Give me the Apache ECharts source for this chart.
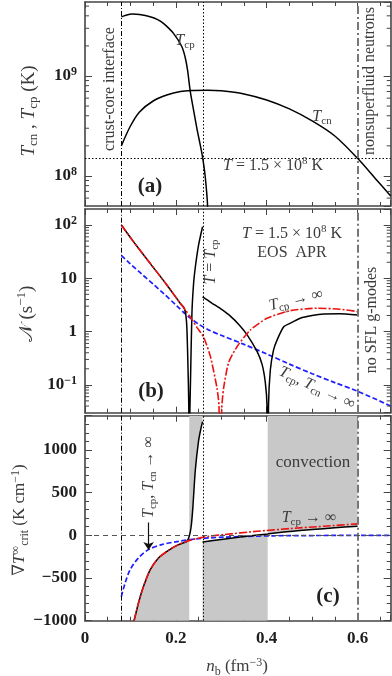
<!DOCTYPE html>
<html><head><meta charset="utf-8">
<script src="https://cdn.jsdelivr.net/npm/echarts@6/dist/echarts.min.js"></script>
<style>html,body{margin:0;padding:0;background:#fff}#c{width:392px;height:676px}</style>
</head><body><div id="c"></div>
<script>
// ---------------- DATA ----------------
const X_MIN = 0, X_MAX = 0.673;
const xTickLabels = [0, 0.2, 0.4, 0.6];
const crustCore = 0.08, tEqTcp = 0.2588, nonSF = 0.6;
const T_line = 1.5e8;

// panel (a): critical temperatures (K)
const nbTcp = [0.08, 0.09, 0.105, 0.12, 0.1434, 0.16, 0.1727, 0.1948, 0.2133, 0.2206, 0.2257, 0.2316, 0.239, 0.2463, 0.2537, 0.2588, 0.2647, 0.2699, 0.2715];
const Tcp   = [3.9e9, 4.06e9, 4.17e9, 4.12e9, 3.92e9, 3.67e9, 3.36e9, 2.67e9, 1.96e9, 1.53e9, 1.15e9, 7.1e8, 4.56e8, 2.99e8, 2.04e8, 1.54e8, 9.8e7, 4.9e7, 1e7];
const nbTcn = [0.08, 0.10, 0.12, 0.15, 0.18, 0.21, 0.24, 0.27, 0.30, 0.35, 0.40, 0.45, 0.50, 0.55, 0.60, 0.64, 0.673];
const Tcn   = [2.0e8, 3.16e8, 4.37e8, 5.62e8, 6.46e8, 7.0e8, 7.16e8, 7.21e8, 7.11e8, 6.61e8, 5.75e8, 4.68e8, 3.55e8, 2.51e8, 1.5e8, 9.33e7, 6.3e7];

// panel (b): Brunt-Vaisala frequency (s^-1)
const nbB1 = [0.08, 0.1066, 0.1434, 0.1802, 0.2096, 0.2169, 0.2215, 0.2243, 0.2265, 0.2285, 0.2295, 0.2305, 0.2325, 0.2354, 0.239, 0.2427, 0.25, 0.2588];
const NB1  = [100, 48.8, 19.1, 7.5, 3.4, 2.9, 2.2, 1.15, 0.26, 0.04, 0.0001, 0.02, 0.15, 2.2, 7.9, 15.8, 42, 93];
const nbB2 = [0.2588, 0.28, 0.30, 0.32, 0.34, 0.357, 0.379, 0.39, 0.397, 0.4007, 0.4022, 0.404, 0.408, 0.415, 0.423, 0.4375, 0.45, 0.474, 0.50, 0.526, 0.56, 0.6];
const NB2  = [4.5, 3.4, 2.63, 1.95, 1.32, 0.87, 0.42, 0.24, 0.11, 0.04, 0.0001, 0.04, 0.19, 0.45, 0.70, 1.23, 1.41, 1.78, 2.0, 2.14, 2.16, 2.05];
const nbRedB = [0.08, 0.1066, 0.1434, 0.1802, 0.2096, 0.2206, 0.2316, 0.2464, 0.261, 0.2757, 0.2904, 0.295, 0.2978, 0.301, 0.305, 0.316, 0.3346, 0.364, 0.4008, 0.452, 0.511, 0.5625, 0.6];
const NRed   = [100, 48.8, 19.1, 7.5, 3.4, 2.57, 1.9, 1.2, 0.79, 0.35, 0.089, 0.04, 0.0001, 0.035, 0.085, 0.26, 0.52, 1.07, 1.78, 2.47, 2.74, 2.63, 2.37];
const nbBlueB = [0.08, 0.10, 0.125, 0.15, 0.175, 0.20, 0.225, 0.25, 0.275, 0.30, 0.35, 0.40, 0.45, 0.50, 0.55, 0.60, 0.673];
const NBlue   = [27, 18.6, 12.0, 7.8, 5.0, 3.16, 2.0, 1.38, 1.05, 0.85, 0.575, 0.38, 0.245, 0.162, 0.11, 0.076, 0.04];

// panel (c): critical temperature gradient (K cm^-1)
const nbC1 = [0.108, 0.1176, 0.1287, 0.1434, 0.1618, 0.1838, 0.2059, 0.2243, 0.2295, 0.2338, 0.2375, 0.2427, 0.25, 0.2552, 0.2588];
const GC1  = [-1000, -795, -600, -404, -266, -176, -109, -71, -12, 106, 330, 753, 1106, 1250, 1330];
const nbC2 = [0.2588, 0.3, 0.35, 0.4022, 0.45, 0.5, 0.55, 0.6];
const GC2  = [-78, -48, -14, 16, 44, 67, 88, 106];
const nbRedC = [0.108, 0.1176, 0.1287, 0.1434, 0.1618, 0.1838, 0.2059, 0.2243, 0.2427, 0.272, 0.305, 0.379, 0.452, 0.526, 0.6];
const GRed   = [-1000, -795, -600, -404, -266, -176, -109, -71, -42, -12, 8, 47, 79, 106, 134];
const nbBlueC = [0.08, 0.0882, 0.0993, 0.1176, 0.1397, 0.1691, 0.2059, 0.2427, 0.2757, 0.305, 0.35, 0.415, 0.5, 0.6, 0.673];
const GBlue   = [-718, -560, -404, -266, -168, -109, -71, -44, -30, -22, -13, -6, -3, -1, 0];
const convEdge1 = 0.2295, convEdge2 = 0.4022;

// ---------------- STYLE ----------------
const SERIF = "'Liberation Serif','DejaVu Serif',serif";
const TXT = '#3c3c3c';
const LBL = '#1e1e1e';
const AX = '#444';
const BLUE = '#1f1fff', RED = '#ee1111', GRAY = '#c8c8c8';

const pairs = (xs, ys) => xs.map((x, i) => [x, ys[i]]);

const grids = [
  {left: 85, top: 2, width: 305.7, height: 204},
  {left: 85, top: 209, width: 305.7, height: 203.7},
  {left: 85, top: 415.7, width: 305.7, height: 205}
];

const axLine = {show: true, onZero: false, lineStyle: {color: AX, width: 1.6}};

function mkX(gi, pos, showLabel) {
  return {
    type: 'value', gridIndex: gi, position: pos, min: X_MIN, max: X_MAX, interval: 0.2,
    axisLine: axLine,
    axisTick: {show: true, inside: true, length: 6, lineStyle: {color: AX, width: 1}},
    minorTick: {show: true, splitNumber: 4, length: 4, lineStyle: {color: AX, width: 1}},
    splitLine: {show: false}, minorSplitLine: {show: false},
    axisLabel: {
      show: showLabel, showMaxLabel: false, margin: 9,
      fontFamily: SERIF, fontWeight: 'bold', fontSize: 17, color: LBL,
      formatter: v => xTickLabels.some(t => Math.abs(t - v) < 1e-9) ? (v === 0 ? '0' : v.toFixed(1)) : ''
    }
  };
}

function powFmt(v) {
  const l = Math.log10(v), e = Math.round(l);
  if (Math.abs(l - e) > 1e-6) return '';
  if (e === 0) return '1';
  if (e === 1) return '10';
  return '10{s|' + (e < 0 ? '−' + (-e) : e) + '}';
}
const supRich = {s: {fontFamily: SERIF, fontWeight: 'bold', fontSize: 12, lineHeight: 12, verticalAlign: 'top', color: LBL}};

function mkYLog(gi, pos, min, max, showLabel) {
  return {
    type: 'log', logBase: 10, gridIndex: gi, position: pos, min, max,
    axisLine: axLine,
    axisTick: {show: true, inside: true, length: 7, lineStyle: {color: AX, width: 1}},
    splitLine: {show: false},
    axisLabel: {
      show: showLabel, showMinLabel: false, showMaxLabel: false, interval: 0, margin: 8,
      fontFamily: SERIF, fontWeight: 'bold', fontSize: 17, lineHeight: 20, color: LBL,
      formatter: powFmt, rich: supRich
    }
  };
}
function mkYLin(gi, pos, showLabel) {
  return {
    type: 'value', gridIndex: gi, position: pos, min: -1000, max: 1400, interval: 500,
    axisLine: axLine,
    axisTick: {show: true, inside: true, length: 7, lineStyle: {color: AX, width: 1}},
    minorTick: {show: true, splitNumber: 5, length: 4, lineStyle: {color: AX, width: 1}},
    splitLine: {show: false}, minorSplitLine: {show: false},
    axisLabel: {
      show: showLabel, showMaxLabel: false, margin: 8,
      fontFamily: SERIF, fontWeight: 'bold', fontSize: 17, color: LBL,
      formatter: v => (v > 1000 ? '' : (v < 0 ? '−' + (-v) : '' + v))
    }
  };
}

// minor ticks for the log axes (positions 2..9 x 10^n)
function logMinor(lo, hi) {
  const out = [];
  for (let e = -3; e <= 10; e++) for (let k = 2; k <= 9; k++) {
    const v = k * Math.pow(10, e);
    if (v > lo * 1.0001 && v < hi * 0.9999) out.push([X_MIN, v]);
  }
  return out;
}
function minorTickItem(params, api) {
  const v = api.value(1);
  const a = api.coord([X_MIN, v]), b = api.coord([X_MAX, v]);
  const st = {stroke: AX, lineWidth: 1};
  return {type: 'group', children: [
    {type: 'line', shape: {x1: a[0], y1: a[1], x2: a[0] + 4, y2: a[1]}, style: st},
    {type: 'line', shape: {x1: b[0] - 4, y1: b[1], x2: b[0], y2: b[1]}, style: st}
  ]};
}

function line(xi, yi, data, color, width, type, z, smooth) {
  return {type: 'line', xAxisIndex: xi, yAxisIndex: yi, data, showSymbol: false, symbol: 'none',
    smooth: smooth === undefined ? 0.3 : smooth, clip: true, z: z || 3, animation: false, silent: true,
    lineStyle: {color, width, type: type || 'solid'}};
}
function area(xi, yi, data, origin, smooth) {
  return {type: 'line', xAxisIndex: xi, yAxisIndex: yi, data, showSymbol: false, symbol: 'none',
    smooth: smooth === undefined ? 0.3 : smooth, clip: true, z: 1, animation: false, silent: true,
    lineStyle: {width: 0, opacity: 0}, areaStyle: {color: GRAY, opacity: 1, origin}};
}

const DASHDOT = [5, 2, 1, 2], DOTTED = [1.5, 2], GDASHDOT = [8, 3, 2, 3];
const vLines = [
  {xAxis: crustCore, lineStyle: {type: DASHDOT, color: '#000', width: 1}},
  {xAxis: tEqTcp, lineStyle: {type: DOTTED, color: '#000', width: 1}},
  {xAxis: nonSF, lineStyle: {type: GDASHDOT, color: '#777', width: 2}}
];
function mark(extra) {
  return {silent: true, symbol: ['none', 'none'], label: {show: false}, animation: false,
    data: vLines.concat(extra || [])};
}

const redType = [8, 2, 2, 2];

// gray convection regions built from the panel (c) curves
const c1 = pairs(nbC1, GC1), c2 = pairs(nbC2, GC2);
const reg1 = c1.filter(p => p[0] <= convEdge1);
const reg2 = c1.filter(p => p[0] >= convEdge1);
const reg3 = c2.filter(p => p[0] <= convEdge2);
const reg4 = c2.filter(p => p[0] >= convEdge2);

const series = [
  // (a)
  line(0, 0, pairs(nbTcp, Tcp), '#000', 1.5),
  Object.assign(line(0, 0, pairs(nbTcn, Tcn), '#000', 1.5), {
    markLine: mark([{yAxis: T_line, lineStyle: {type: DOTTED, color: '#000', width: 1}}])
  }),
  {type: 'custom', xAxisIndex: 0, yAxisIndex: 0, renderItem: minorTickItem, data: logMinor(5e7, 5.5e9), silent: true, z: 5, clip: false},
  // (b)
  Object.assign(line(1, 1, pairs(nbBlueB, NBlue), BLUE, 1.7, [5, 2.5]), {markLine: mark()}),
  line(1, 1, pairs(nbB1, NB1), '#000', 1.5, 'solid', 3, 0.2),
  line(1, 1, pairs(nbB2, NB2), '#000', 1.5, 'solid', 3, 0.2),
  line(1, 1, pairs(nbRedB, NRed), RED, 1.6, redType, 4, 0.2),
  {type: 'custom', xAxisIndex: 1, yAxisIndex: 1, renderItem: minorTickItem, data: logMinor(0.03, 200), silent: true, z: 5, clip: false},
  // (c)
  area(2, 2, reg1, 'start', 0.2),
  area(2, 2, reg2, 'end', 0.2),
  area(2, 2, reg3, 'start'),
  area(2, 2, reg4, 'end'),
  Object.assign(line(2, 2, pairs(nbBlueC, GBlue), BLUE, 1.7, [5, 2.5]), {
    markLine: mark([{yAxis: 0, lineStyle: {type: [5, 4], color: '#555', width: 1.2}}])
  }),
  Object.assign(line(2, 2, pairs(nbC1, GC1), '#000', 1.5, 'solid', 3, 0.2), {
    markLine: {silent: true, symbol: ['none', 'arrow'], symbolSize: 8, label: {show: false}, animation: false,
      lineStyle: {color: '#111', width: 1.2, type: 'solid'},
      data: [[{coord: [0.14, 150]}, {coord: [0.14, -172]}]]}
  }),
  line(2, 2, pairs(nbC2, GC2), '#000', 1.5),
  line(2, 2, pairs(nbRedC, GRed), RED, 1.6, redType, 4, 0.2)
];

// ---------------- TEXT ----------------
function rich(fs, color) {
  const s = Math.round(fs * 0.7);
  const base = {fontFamily: SERIF, fill: color, color: color};
  return {
    i: Object.assign({fontStyle: 'italic', fontSize: fs, lineHeight: fs + 4}, base),
    sub: Object.assign({fontSize: s, lineHeight: s, verticalAlign: 'bottom'}, base),
    sup: Object.assign({fontSize: s, lineHeight: s, verticalAlign: 'top'}, base)
  };
}
function label(text, x, y, fs, rot, extra) {
  return {type: 'text', x, y, rotation: (rot || 0) * Math.PI / 180, z: 100, silent: true,
    style: Object.assign({text, fill: TXT, fontFamily: SERIF, fontSize: fs, lineHeight: fs + 4,
      align: 'center', verticalAlign: 'middle', rich: rich(fs, TXT)}, extra || {})};
}
const bold = {fontWeight: 'bold', fill: '#222'};
const graphic = [
  label('crust-core interface', 110, 89, 16, 90),
  label('nonsuperfluid neutrons', 370, 81, 16, 90),
  label('{i|T}{sub|cp}', 185, 41, 16),
  label('{i|T}{sub|cn}', 322, 117, 16),
  label('{i|T} = 1.5 × 10{sup|8} K', 273, 166, 16),
  label('(a)', 150, 187, 21, 0, bold),
  label('{i|T} = 1.5 × 10{sup|8} K', 292, 234, 16),
  label('EOS  APR', 292, 253, 16),
  label('{i|T} = {i|T}{sub|cp}', 211, 262, 16, 90),
  label('no SFL g-modes', 372, 320, 16, 90),
  label('{i|T}{sub|cp} → ∞', 296, 300, 16, 13),
  label('{i|T}{sub|cp}, {i|T}{sub|cn} → ∞', 317, 388, 16, -25),
  label('(b)', 151, 392, 21, 0, bold),
  label('convection', 313, 463, 17),
  label('{i|T}{sub|cp} → ∞', 309, 518, 16),
  label('(c)', 328, 597, 21, 0, bold),
  label('{i|T}{sub|cp}, {i|T}{sub|cn} → ∞', 149, 477, 16, 90),
  label('{i|T}{sub|cn} , {i|T}{sub|cp} (K)', 29, 111, 19, 90),
  label('𝒩 (s{sup|−1})', 27, 314, 19, 90),
  label('∇{i|T}{sup|∞}{sub|crit} (K cm{sup|−1})', 20, 520, 17, 90),
  label('{i|n}{sub|b} (fm{sup|−3})', 237, 667, 17)
];

const chart = echarts.init(document.getElementById('c'), null, {renderer: 'canvas'});
chart.setOption({
  backgroundColor: '#fff',
  animation: false,
  grid: grids,
  xAxis: [mkX(0, 'bottom', false), mkX(1, 'bottom', false), mkX(2, 'bottom', true),
          mkX(0, 'top', false), mkX(1, 'top', false), mkX(2, 'top', false)],
  yAxis: [mkYLog(0, 'left', 5e7, 5.5e9, true), mkYLog(1, 'left', 0.03, 200, true), mkYLin(2, 'left', true),
          mkYLog(0, 'right', 5e7, 5.5e9, false), mkYLog(1, 'right', 0.03, 200, false), mkYLin(2, 'right', false)],
  series,
  graphic
});
</script></body></html>
